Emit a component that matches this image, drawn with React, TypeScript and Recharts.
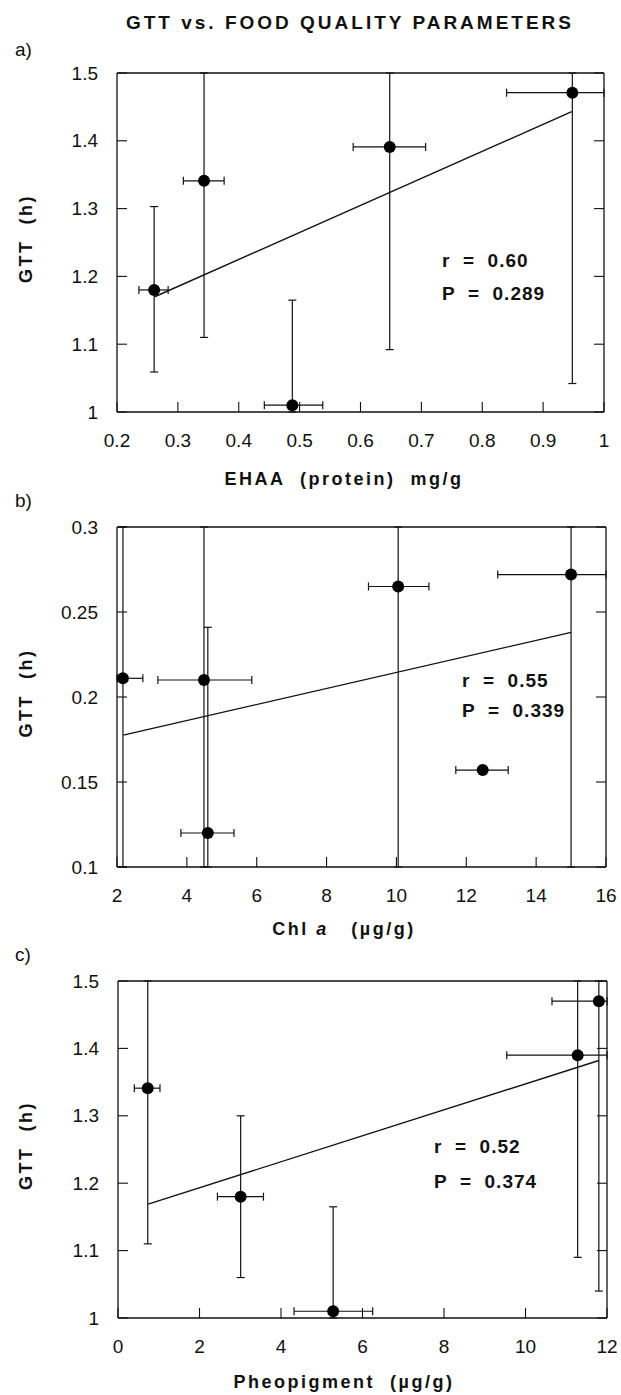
import React from 'react';
import { ScatterChart, Scatter, XAxis, YAxis, ErrorBar, ReferenceLine } from 'recharts';

const FONT = '"Liberation Sans", Arial, Helvetica, sans-serif';
const INK = '#111';

// ---------- Panel a) EHAA (protein) ----------
// error bounds that run past the frame are given at the frame edge
const aX = [0.261, 0.343, 0.488, 0.648, 0.948];
const aY = [1.18, 1.341, 1.01, 1.391, 1.471];
const aXLow = [0.236, 0.309, 0.442, 0.588, 0.84];
const aXHigh = [0.284, 0.376, 0.538, 0.707, 1.0];
const aYLow = [1.059, 1.11, 1.0, 1.092, 1.042];
const aYHigh = [1.303, 1.5, 1.165, 1.5, 1.5];
const aFitX = [0.262, 0.947];
const aFitY = [1.17, 1.443];
const aXTicks = [0.2, 0.3, 0.4, 0.5, 0.6, 0.7, 0.8, 0.9, 1];
const aYTicks = [1, 1.1, 1.2, 1.3, 1.4, 1.5];
const aStats = ['r  =  0.60', 'P  =  0.289'];

// ---------- Panel b) Chl a ----------
const bX = [2.17, 4.49, 4.6, 10.05, 12.47, 15.0];
const bY = [0.211, 0.21, 0.12, 0.265, 0.157, 0.272];
const bXLow = [2.0, 3.17, 3.83, 9.2, 11.7, 12.9];
const bXHigh = [2.74, 5.86, 5.35, 10.93, 13.2, 16];
const bYLow: (number | null)[] = [0.1, 0.1, 0.1, 0.1, null, 0.1];
const bYHigh: (number | null)[] = [0.3, 0.3, 0.241, 0.3, null, 0.3];
const bFitX = [2.18, 15.0];
const bFitY = [0.1776, 0.238];
const bXTicks = [2, 4, 6, 8, 10, 12, 14, 16];
const bYTicks = [0.1, 0.15, 0.2, 0.25, 0.3];
const bStats = ['r  =  0.55', 'P  =  0.339'];

// ---------- Panel c) Pheopigment ----------
const cX = [0.73, 3.01, 5.28, 11.28, 11.8];
const cY = [1.341, 1.18, 1.01, 1.39, 1.47];
const cXLow = [0.4, 2.44, 4.32, 9.54, 10.65];
const cXHigh = [1.03, 3.57, 6.25, 12, 12];
const cYLow = [1.11, 1.06, 1.0, 1.09, 1.04];
const cYHigh = [1.5, 1.3, 1.165, 1.5, 1.5];
const cFitX = [0.74, 11.8];
const cFitY = [1.169, 1.382];
const cXTicks = [0, 2, 4, 6, 8, 10, 12];
const cYTicks = [1, 1.1, 1.2, 1.3, 1.4, 1.5];
const cStats = ['r  =  0.52', 'P  =  0.374'];

function buildRows(
  xs: number[], ys: number[], xLo: number[], xHi: number[],
  yLo: (number | null)[], yHi: (number | null)[]
) {
  return xs.map((x, i) => ({
    x,
    y: ys[i],
    ex: [x - xLo[i], xHi[i] - x],
    ey: yLo[i] == null || yHi[i] == null ? null : [ys[i] - (yLo[i] as number), (yHi[i] as number) - ys[i]],
  }));
}

const Dot = (p: any) => <circle cx={p.cx} cy={p.cy} r={6} fill="#000" />;

const XTick = (p: any) => (
  <text x={p.x} y={p.y} dy={13} textAnchor="middle" fontSize={19} fontFamily={FONT} fill={INK}>
    {p.payload.value}
  </text>
);
const YTick = (p: any) => (
  <text x={p.x} y={p.y} dy={6.5} textAnchor="end" fontSize={19} fontFamily={FONT} fill={INK}>
    {p.payload.value}
  </text>
);
const NoLabel = () => <g />;

type Box = { left: number; right: number; top: number; bottom: number };

function Panel(props: {
  rows: any[]; fitX: number[]; fitY: number[]; xDomain: [number, number]; yDomain: [number, number];
  xTicks: number[]; yTicks: number[]; box: Box;
}) {
  const { rows, fitX, fitY, xDomain, yDomain, xTicks, yTicks, box } = props;
  const padTop = 12;
  const padBottom = 48;
  const YW = 100;
  const XH = 44;
  const height = box.bottom - box.top + padTop + padBottom;
  const axisLine = { stroke: INK, strokeWidth: 1.3 };
  const tickLine = { stroke: INK, strokeWidth: 1.1 };
  return (
    <div style={{ position: 'absolute', left: 0, top: box.top - padTop, width: 621, height }}>
      <ScatterChart
        width={621}
        height={height}
        margin={{ top: padTop - 1, right: 621 - box.right - 1, bottom: padBottom - XH, left: box.left - YW }}
      >
        <XAxis xAxisId="b" dataKey="x" type="number" domain={xDomain} ticks={xTicks} interval={0}
          allowDataOverflow height={XH} tickSize={-10} tickMargin={32}
          axisLine={axisLine} tickLine={tickLine} tick={<XTick />} />
        <XAxis xAxisId="t" orientation="top" type="number" domain={xDomain} ticks={xTicks} interval={0}
          allowDataOverflow height={1} tickSize={-10} tick={<NoLabel />}
          axisLine={axisLine} tickLine={tickLine} />
        <YAxis yAxisId="l" dataKey="y" type="number" domain={yDomain} ticks={yTicks} interval={0}
          allowDataOverflow width={YW} tickSize={-10} tickMargin={29}
          axisLine={axisLine} tickLine={tickLine} tick={<YTick />} />
        <YAxis yAxisId="r" orientation="right" type="number" domain={yDomain} ticks={yTicks} interval={0}
          allowDataOverflow width={1} tickSize={-10} tick={<NoLabel />}
          axisLine={axisLine} tickLine={tickLine} />
        <Scatter xAxisId="b" yAxisId="l" data={rows} shape={Dot} isAnimationActive={false}>
          <ErrorBar dataKey="ex" direction="x" width={4} stroke={INK} strokeWidth={1.2} isAnimationActive={false} />
          <ErrorBar dataKey="ey" direction="y" width={4} stroke={INK} strokeWidth={1.2} isAnimationActive={false} />
        </Scatter>
        <ReferenceLine xAxisId="b" yAxisId="l"
          segment={[{ x: fitX[0], y: fitY[0] }, { x: fitX[1], y: fitY[1] }]}
          stroke={INK} strokeWidth={1.4} />
      </ScatterChart>
    </div>
  );
}

const boxA: Box = { left: 117, right: 604, top: 73, bottom: 412 };
const boxB: Box = { left: 117, right: 606, top: 527, bottom: 867 };
const boxC: Box = { left: 118, right: 607, top: 981, bottom: 1318 };

export default function App() {
  const rowsA = buildRows(aX, aY, aXLow, aXHigh, aYLow, aYHigh);
  const rowsB = buildRows(bX, bY, bXLow, bXHigh, bYLow, bYHigh);
  const rowsC = buildRows(cX, cY, cXLow, cXHigh, cYLow, cYHigh);

  const bold = { fontFamily: FONT, fontWeight: 700, fill: INK } as const;
  const pre = { whiteSpace: 'pre' } as React.CSSProperties;

  const yLabel = (box: Box) => (
    <text
      transform={`translate(32, ${(box.top + box.bottom) / 2 - 4}) rotate(-90)`}
      textAnchor="middle" fontSize={18} letterSpacing={2.5} style={pre} {...bold}
    >
      GTT  (h)
    </text>
  );
  const stats = (lines: string[], x: number, y1: number, y2: number) => (
    <g>
      <text x={x} y={y1} fontSize={19} letterSpacing={1} style={pre} {...bold}>{lines[0]}</text>
      <text x={x} y={y2} fontSize={19} letterSpacing={1} style={pre} {...bold}>{lines[1]}</text>
    </g>
  );

  return (
    <div style={{ position: 'absolute', left: 0, top: 0, width: 621, height: 1395, background: '#fff', overflow: 'hidden' }}>
      <Panel rows={rowsA} fitX={aFitX} fitY={aFitY} xDomain={[0.2, 1]} yDomain={[1, 1.5]}
        xTicks={aXTicks} yTicks={aYTicks} box={boxA} />
      <Panel rows={rowsB} fitX={bFitX} fitY={bFitY} xDomain={[2, 16]} yDomain={[0.1, 0.3]}
        xTicks={bXTicks} yTicks={bYTicks} box={boxB} />
      <Panel rows={rowsC} fitX={cFitX} fitY={cFitY} xDomain={[0, 12]} yDomain={[1, 1.5]}
        xTicks={cXTicks} yTicks={cYTicks} box={boxC} />
      <svg width={621} height={1395} style={{ position: 'absolute', left: 0, top: 0, pointerEvents: 'none' }}>
        <text x={350} y={29} textAnchor="middle" fontSize={19} letterSpacing={3} {...bold}>
          GTT vs. FOOD QUALITY PARAMETERS
        </text>

        <text x={15} y={56} fontSize={19} fontFamily={FONT} fill={INK}>a)</text>
        <text x={15} y={507} fontSize={19} fontFamily={FONT} fill={INK}>b)</text>
        <text x={15} y={961} fontSize={19} fontFamily={FONT} fill={INK}>c)</text>

        {yLabel(boxA)}
        {yLabel(boxB)}
        {yLabel(boxC)}

        <text x={344} y={485} textAnchor="middle" fontSize={18} letterSpacing={2.5} style={pre} {...bold}>
          EHAA  (protein)  mg/g
        </text>
        <text x={344} y={935} textAnchor="middle" fontSize={18} letterSpacing={2.5} style={pre} {...bold}>
          Chl <tspan fontStyle="italic">a</tspan>   (µg/g)
        </text>
        <text x={344} y={1388} textAnchor="middle" fontSize={18} letterSpacing={2.5} style={pre} {...bold}>
          Pheopigment  (µg/g)
        </text>

        {stats(aStats, 442, 267, 300)}
        {stats(bStats, 462, 687, 717)}
        {stats(cStats, 434, 1153, 1188)}
      </svg>
    </div>
  );
}
